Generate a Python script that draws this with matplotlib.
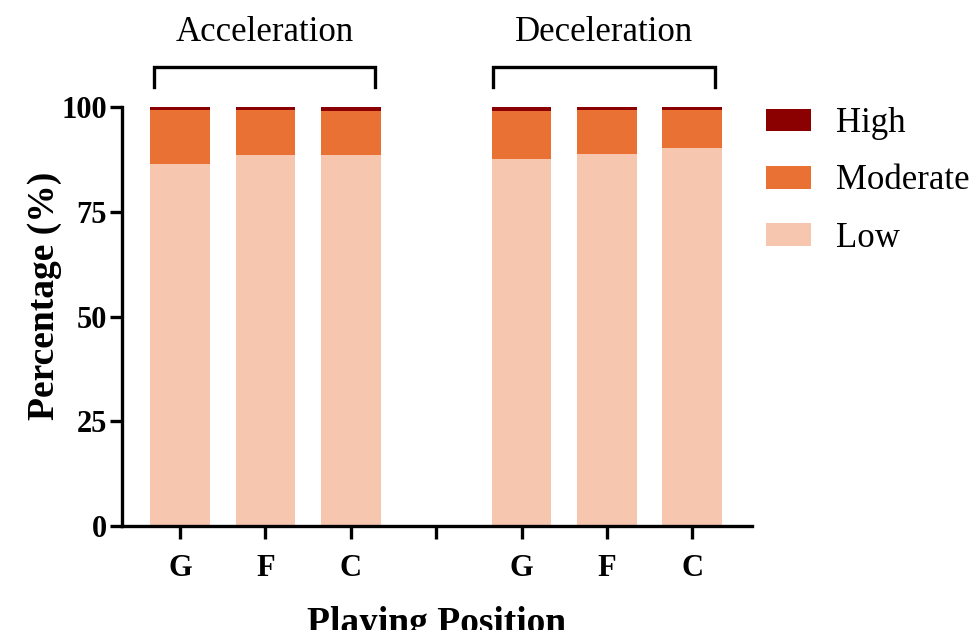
import matplotlib
matplotlib.use("Agg")
import matplotlib.pyplot as plt
import numpy as np

plt.rcParams['font.family'] = ['Liberation Serif', 'DejaVu Serif']

positions = ["G", "F", "C", "", "G", "F", "C"]
groups = ["Acceleration", "Deceleration"]
low = [86.4, 88.6, 88.6, np.nan, 87.6, 88.9, 90.3]
moderate = [12.8, 10.7, 10.4, np.nan, 11.5, 10.4, 9.0]
high = [0.8, 0.7, 1.0, np.nan, 0.9, 0.7, 0.7]
series_names = ["Low", "Moderate", "High"]
colors = ["#F6C6AE", "#E87133", "#8B0000"]

fig = plt.figure(figsize=(9.76, 6.3), dpi=100)
ax = fig.add_axes([0.125, 0.165, 0.6455, 0.665])

x = np.arange(len(positions))
w = 0.70
lowv = np.array(low)
modv = np.array(moderate)
highv = np.array(high)
b1 = ax.bar(x, lowv, w, color=colors[0], edgecolor='none', label=series_names[0])
b2 = ax.bar(x, modv, w, bottom=lowv, color=colors[1], edgecolor='none', label=series_names[1])
b3 = ax.bar(x, highv, w, bottom=lowv + modv, color=colors[2], edgecolor='none', label=series_names[2])

ax.set_xlim(-0.68, 6.70)
ax.set_ylim(0, 100)
ax.set_yticks([0, 25, 50, 75, 100])
ax.set_xticks(x)
ax.set_xticklabels(positions)
for sp in ['top', 'right']:
    ax.spines[sp].set_visible(False)
for sp in ['left', 'bottom']:
    ax.spines[sp].set_linewidth(2.4)
ax.tick_params(axis='both', width=2.4, length=9, direction='out')
ax.tick_params(axis='x', pad=11)
ax.tick_params(axis='y', pad=2)
for lab in ax.get_xticklabels() + ax.get_yticklabels():
    lab.set_fontweight('bold')
    lab.set_fontsize(22)

ax.set_ylabel("Percentage (%)", fontsize=27, fontweight='bold')
ax.yaxis.set_label_coords(-0.095, 0.55)
ax.set_xlabel("Playing Position", fontsize=27, fontweight='bold', va='top')
ax.xaxis.set_label_coords(0.5, -0.19)

# group brackets
for (x0, x1), name in zip([(-0.3, 2.28), (3.67, 6.27)], groups):
    ax.plot([x0, x0, x1, x1], [104.8, 109.5, 109.5, 104.8], color='black',
            lw=2.4, clip_on=False, solid_joinstyle='miter')
    ax.text((x0 + x1) / 2, 117.7, name, ha='center', va='center', fontsize=25)

handles = [b3, b2, b1]
fig.legend(handles, [series_names[2], series_names[1], series_names[0]],
           loc='upper left', bbox_to_anchor=(0.785, 0.830), frameon=False,
           fontsize=25, handlelength=1.3, handleheight=0.63, labelspacing=0.7,
           handletextpad=0.72, borderpad=0, borderaxespad=0)

fig.savefig("out.png", dpi=100)
